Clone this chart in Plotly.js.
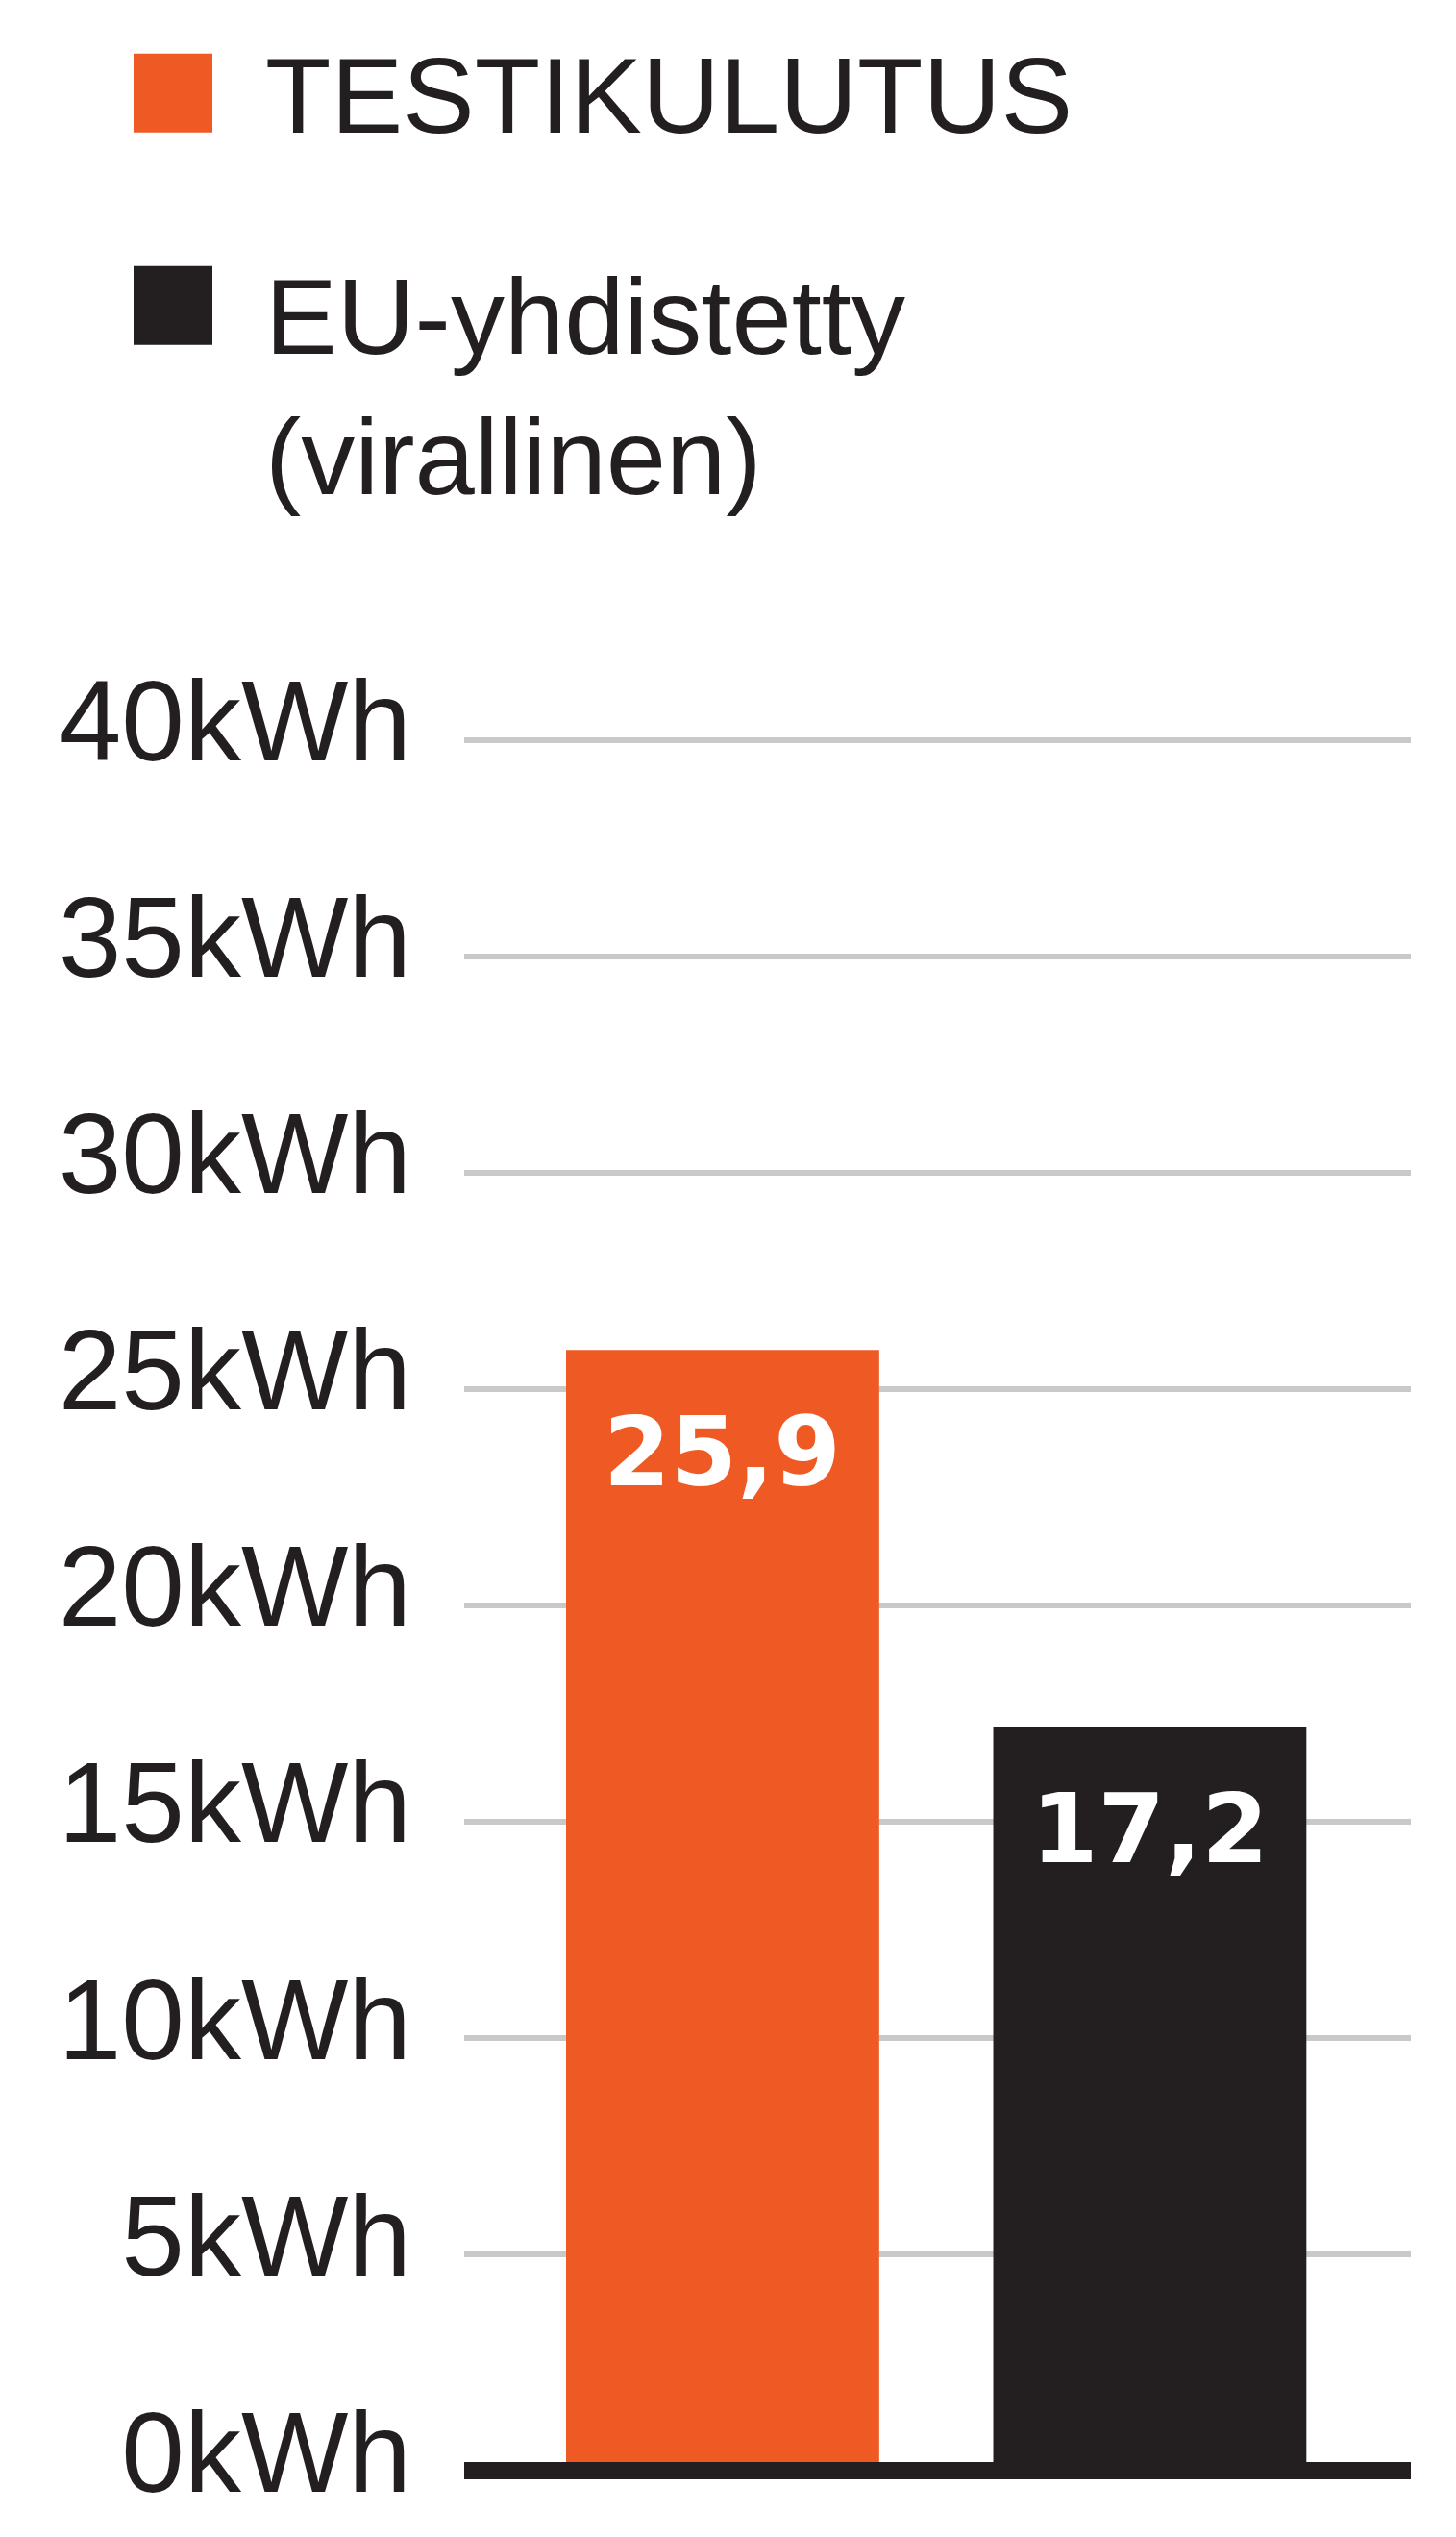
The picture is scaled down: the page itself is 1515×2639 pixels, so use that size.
<!DOCTYPE html>
<html>
<head>
<meta charset="utf-8">
<script src="https://cdn.plot.ly/plotly-3.0.1.min.js"></script>
<style>
  html, body { margin: 0; padding: 0; background: #ffffff; }
  #chart { width: 1515px; height: 2639px; }
</style>
</head>
<body>
<div id="chart"></div>
<script>
// ---- data ----
const seriesNames = ["TESTIKULUTUS", "EU-yhdistetty (virallinen)"];
const values = [25.9, 17.2];
const yTickValues = [0, 5, 10, 15, 20, 25, 30, 35, 40];
const yTickSuffix = "kWh";

// ---- style ----
const colors = ["#EF5A24", "#231F20"];
const textColor = "#231F20";
const W = 1515, H = 2639;
const M = { l: 483, r: 47, t: 746.5, b: 45.5 };
const plotW = W - M.l - M.r, plotH = H - M.t - M.b;
const px = X => (X - M.l) / plotW;
const py = Y => (H - M.b - Y) / plotH;
const labelFont = "Liberation Sans, Arial, sans-serif";

const traces = seriesNames.map((name, i) => ({
  type: "bar",
  x: [name],
  y: [values[i]],
  name: name,
  width: 0.733,
  marker: { color: colors[i], line: { width: 0 } },
  showlegend: false,
  hoverinfo: "x+y"
}));

// value labels inside bars
const valueAnnotations = seriesNames.map((name, i) => ({
  x: name, y: values[i], xref: "x", yref: "y",
  text: values[i].toFixed(1).replace(".", ","),
  showarrow: false, xanchor: "center", yanchor: "top", yshift: -46,
  font: { family: "DejaVu Sans, sans-serif", size: 100, color: "#ffffff", weight: "bold" }
}));

// legend (squares + labels)
const legendTops = [55, 276];
const legendTextTops = [34, 264];
const legendShapes = seriesNames.map((name, i) => ({
  type: "rect", xref: "paper", yref: "paper",
  x0: px(139), x1: px(221), y0: py(legendTops[i] + 82), y1: py(legendTops[i]),
  fillcolor: colors[i], line: { width: 0 }
}));
const legendAnnotations = seriesNames.map((name, i) => ({
  xref: "paper", yref: "paper",
  x: px(274), y: py(legendTextTops[i]),
  xanchor: "left", yanchor: "top", align: "left",
  text: name.replace(" (", "<br>("),
  showarrow: false,
  font: { family: labelFont, size: 112, color: textColor }
}));

const layout = {
  width: W, height: H,
  margin: M,
  paper_bgcolor: "#ffffff",
  plot_bgcolor: "#ffffff",
  barmode: "overlay",
  showlegend: false,
  xaxis: {
    type: "category",
    range: [-0.605, 1.611],
    showticklabels: false,
    showgrid: false,
    zeroline: false,
    showline: false,
    ticks: ""
  },
  yaxis: {
    range: [-0.5, 40.5],
    tickmode: "array",
    tickvals: yTickValues,
    ticktext: yTickValues.map(v => v + yTickSuffix),
    ticks: "",
    ticklabelstandoff: 54,
    ticklabelshift: -20,
    tickfont: { family: labelFont, size: 118, color: textColor },
    showgrid: true,
    gridcolor: "#C9C9C9",
    gridwidth: 6,
    zeroline: true,
    zerolinecolor: "#231F20",
    zerolinewidth: 18,
    zerolinelayer: "above traces",
    showline: false
  },
  shapes: legendShapes,
  annotations: valueAnnotations.concat(legendAnnotations)
};

Plotly.newPlot("chart", traces, layout, { displayModeBar: false, staticPlot: true });
</script>
</body>
</html>
